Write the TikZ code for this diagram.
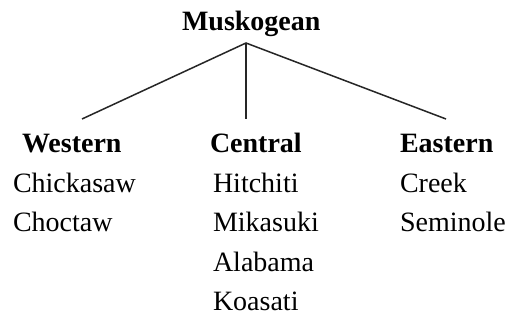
\documentclass[tikz,border=0pt]{standalone}
\usepackage{fontspec}
\setmainfont{Liberation Serif}
\begin{document}
\begin{tikzpicture}[x=1pt,y=-1pt,
  lbl/.style={anchor=base west,inner sep=0pt,outer sep=0pt,font=\fontsize{28}{30}\selectfont,text=black},
  head/.style={lbl,font=\fontsize{28}{30}\selectfont\bfseries},
  branch/.style={draw=black!85,line width=1.5pt}]
  \useasboundingbox[fill=white] (0,0) rectangle (527,320);

  % root and branch points
  \node[head] (root) at (182,31) {Muskogean};
  \coordinate (apex) at (246,43);
  \coordinate (wtop) at (82,119);
  \coordinate (ctop) at (246,119);
  \coordinate (etop) at (446,119);
  \draw[branch] (wtop) -- (apex) -- (etop);
  \draw[branch] (apex) -- (ctop);

  % Western
  \node[head] (west) at (22,153) {Western};
  \node[lbl] (chickasaw) at (13,193) {Chickasaw};
  \node[lbl] (choctaw) at (13,232) {Choctaw};

  % Central
  \node[head] (central) at (210,153) {Central};
  \node[lbl] (hitchiti) at (213,193) {Hitchiti};
  \node[lbl] (mikasuki) at (213,232) {Mikasuki};
  \node[lbl] (alabama) at (213,271) {Alabama};
  \node[lbl] (koasati) at (213,310) {Koasati};

  % Eastern
  \node[head] (east) at (400,153) {Eastern};
  \node[lbl] (creek) at (400,193) {Creek};
  \node[lbl] (seminole) at (400,232) {Seminole};
\end{tikzpicture}
\end{document}
